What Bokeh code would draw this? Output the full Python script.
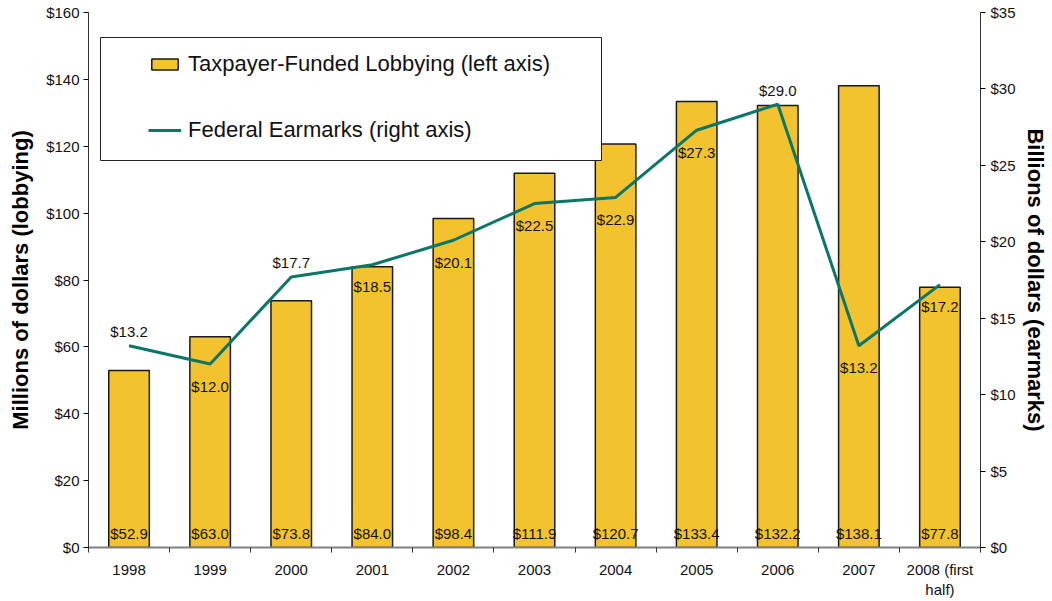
from bokeh.plotting import figure
from bokeh.models import (Range1d, LinearAxis, FixedTicker, PrintfTickFormatter,
                          ColumnDataSource, LabelSet, Legend, LegendItem, BoxAnnotation)
from bokeh.core.properties import value
from bokeh.embed import file_html
from bokeh.resources import INLINE

years = ["1998", "1999", "2000", "2001", "2002", "2003", "2004", "2005", "2006", "2007", "2008 (first\nhalf)"]
lobbying = [52.9, 63.0, 73.8, 84.0, 98.4, 111.9, 120.7, 133.4, 132.2, 138.1, 77.8]
earmarks = [13.2, 12.0, 17.7, 18.5, 20.1, 22.5, 22.9, 27.3, 29.0, 13.2, 17.2]
label_side = ["above", "below", "above", "below", "below", "below", "below", "below", "above", "below", "below"]
left_ticks = [0, 20, 40, 60, 80, 100, 120, 140, 160]
right_ticks = [0, 5, 10, 15, 20, 25, 30, 35]

FONT = "Liberation Sans"
BAR = "#F3C22F"
LINE = "#0B7668"

n = len(years)
xc = [i + 0.5 for i in range(n)]

p = figure(width=1050, height=600, output_backend="svg", toolbar_location=None,
           x_range=Range1d(0, n), y_range=Range1d(0, 160),
           min_border_left=88, min_border_right=68, min_border_top=12, min_border_bottom=52)
p.extra_y_ranges = {"earm": Range1d(0, 35)}
p.xgrid.visible = False
p.ygrid.visible = False
p.outline_line_color = None
p.background_fill_color = "white"

src = ColumnDataSource(dict(
    x=xc, lob=lobbying, earm=earmarks,
    lob_lbl=["$%.1f" % v for v in lobbying],
))

bars = p.vbar(x="x", top="lob", width=0.5, source=src, fill_color=BAR,
              line_color="#1a1a1a", line_width=1.5)
line = p.line(x="x", y="earm", source=src, y_range_name="earm",
              line_color=LINE, line_width=3)

# bar value labels at the base
p.add_layout(LabelSet(x="x", y=0, text="lob_lbl", source=src, text_align="center",
                      text_baseline="bottom", y_offset=6, text_font=value(FONT),
                      text_font_size="15px", text_color="#111111"))

# earmark labels
above = [i for i, s in enumerate(label_side) if s == "above"]
below = [i for i, s in enumerate(label_side) if s == "below"]
for idx, off in ((above, 14), (below, -22)):
    s = ColumnDataSource(dict(x=[xc[i] for i in idx], y=[earmarks[i] for i in idx],
                              t=["$%.1f" % earmarks[i] for i in idx]))
    p.add_layout(LabelSet(x="x", y="y", text="t", source=s, y_range_name="earm",
                          text_align="center", text_baseline="middle", y_offset=off,
                          text_font=value(FONT), text_font_size="15px", text_color="#111111"))

# x axis
xa = p.xaxis[0]
xa.ticker = FixedTicker(ticks=xc, minor_ticks=list(range(n + 1)))
xa.major_label_overrides = {x: y for x, y in zip(xc, years)}
xa.major_tick_line_color = None
xa.minor_tick_in = 0
xa.minor_tick_out = 5
xa.minor_tick_line_color = "#333333"
xa.axis_line_color = "#808080"
xa.axis_line_width = 2
xa.major_label_text_font = FONT
xa.major_label_text_font_size = "15px"
xa.major_label_text_color = "#111111"
xa.major_label_standoff = 7

# left axis
ya = p.yaxis[0]
ya.ticker = FixedTicker(ticks=left_ticks, minor_ticks=[])
ya.formatter = PrintfTickFormatter(format="$%d")
ya.axis_label = "Millions of dollars (lobbying)"
ya.axis_label_text_font = FONT
ya.axis_label_text_font_size = "22px"
ya.axis_label_text_font_style = "bold"
ya.axis_label_text_color = "black"
ya.axis_label_standoff = 10
ya.major_label_text_font = FONT
ya.major_label_text_font_size = "15px"
ya.major_label_text_color = "#111111"
ya.major_tick_in = 0
ya.major_tick_out = 5
ya.minor_tick_line_color = None
ya.axis_line_color = "#333333"
ya.major_label_standoff = 4

# right axis
ra = LinearAxis(y_range_name="earm", ticker=FixedTicker(ticks=right_ticks, minor_ticks=[]),
                formatter=PrintfTickFormatter(format="$%d"))
ra.axis_label = "Billions of dollars (earmarks)"
ra.axis_label_text_font = FONT
ra.axis_label_text_font_size = "22px"
ra.axis_label_text_font_style = "bold"
ra.axis_label_text_color = "black"
ra.axis_label_standoff = 4
ra.major_label_text_font = FONT
ra.major_label_text_font_size = "15px"
ra.major_label_text_color = "#111111"
ra.major_tick_in = 0
ra.major_tick_out = 5
ra.minor_tick_line_color = None
ra.axis_line_color = "#333333"
ra.major_label_standoff = 5
p.add_layout(ra, "right")

# legend frame (canvas units)
p.add_layout(BoxAnnotation(left=100, right=601, top=37, bottom=160,
                           left_units="canvas", right_units="canvas",
                           top_units="canvas", bottom_units="canvas",
                           fill_color="white", fill_alpha=1.0,
                           line_color="#222222", line_width=1, line_alpha=1.0))

legend = Legend(items=[
    LegendItem(label="Taxpayer-Funded Lobbying (left axis)", renderers=[bars]),
    LegendItem(label="Federal Earmarks (right axis)", renderers=[line]),
], location=(60, 404))
legend.padding = 18
legend.spacing = 40
legend.glyph_width = 33
legend.glyph_height = 14
legend.label_standoff = 7
legend.label_text_font = FONT
legend.label_text_font_size = "22px"
legend.label_text_color = "#111111"
legend.border_line_color = None
legend.background_fill_alpha = 0
legend.margin = 0
p.add_layout(legend)

open("out.html", "w").write(file_html(p, INLINE))
